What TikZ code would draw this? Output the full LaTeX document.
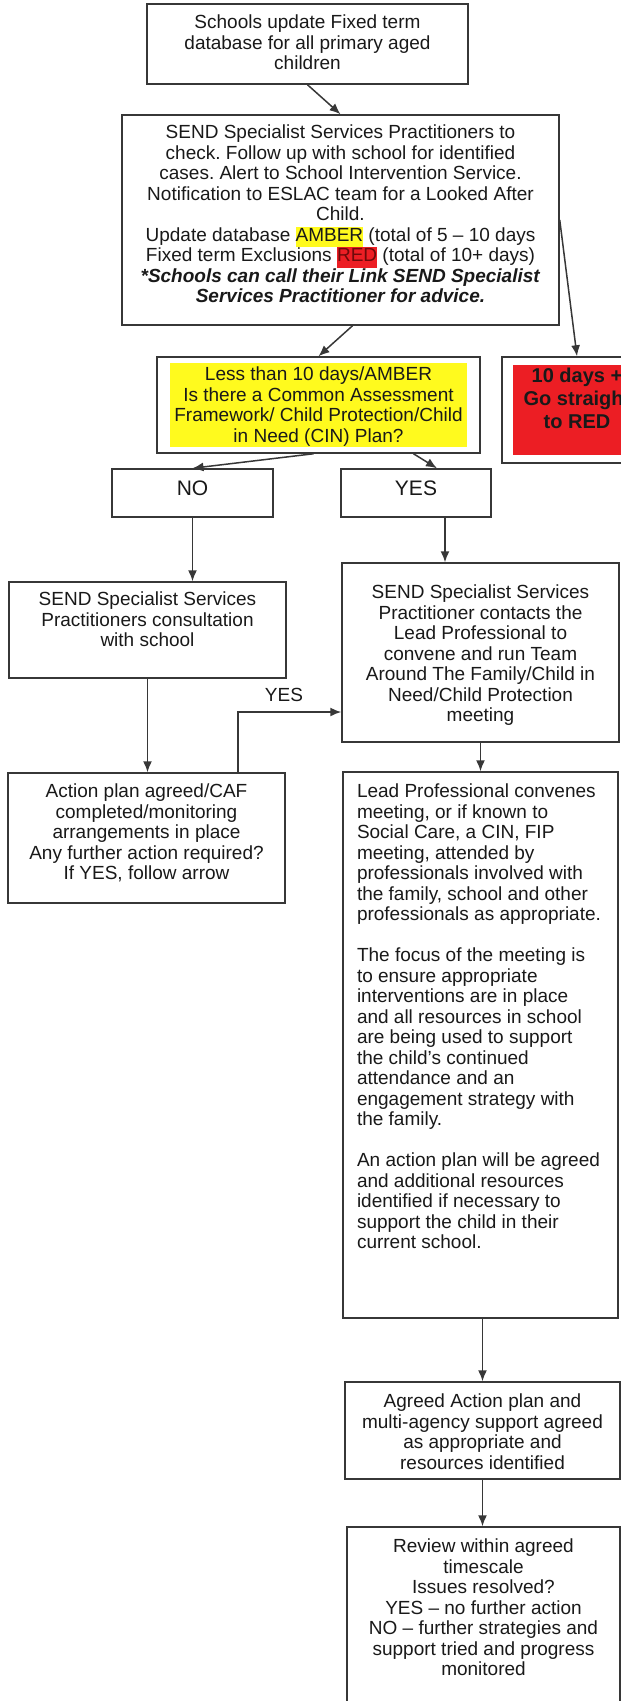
\documentclass[tikz,border=0pt]{standalone}
\usepackage{fontspec}
\setmainfont{Liberation Sans}
\usetikzlibrary{arrows.meta}
\definecolor{hlyellow}{RGB}{255,250,30}
\definecolor{hlred}{RGB}{236,30,36}
\definecolor{hlredtext}{RGB}{110,10,10}
\definecolor{edge}{RGB}{55,55,55}
\frenchspacing
\newcommand{\bodyfont}{\fontsize{19pt}{20.5pt}\selectfont}
\newcommand{\boxtext}[4]{\parbox[c][#2pt][t]{#1pt}{\centering\vspace*{#3pt}#4}}
\newcommand{\amber}[1]{{\fboxsep=0pt\colorbox{hlyellow}{\strut #1}}}
\newcommand{\redhl}[1]{{\fboxsep=0pt\colorbox{hlred}{\strut\textcolor{hlredtext}{#1}}}}
\begin{document}
\begin{tikzpicture}[x=1pt,y=1pt]
	\tikzstyle{box}=[draw=edge,line width=1.5pt,fill=white,inner sep=0pt,font=\bodyfont,text=black!90]
	\tikzstyle{lbl}=[inner sep=0pt,font=\bodyfont,text=black!90]
	\tikzstyle{arr}=[draw=edge,line width=1.5pt,-{Latex[length=11pt,width=9pt]}]
	\useasboundingbox (0,0) rectangle (621,-1701);
	\clip (0,0) rectangle (621,-1701);
	\draw (307.5,-44) node[box] (b1) {\boxtext{321}{80}{11}{Schools update Fixed term\\database for all primary aged\\children}};
	\draw (340.5,-220) node[box] (b2) {\boxtext{437}{210}{10}{SEND Specialist Services Practitioners to\\check. Follow up with school for identified\\cases. Alert to School Intervention Service.\\Notification to ESLAC team for a Looked After\\Child.\\Update database \amber{AMBER} (total of 5 – 10 days\\Fixed term Exclusions \redhl{RED} (total of 10+ days)\\\textbf{\textit{*Schools can call their Link SEND Specialist}}\\\textbf{\textit{Services Practitioner for advice.}}}};
	\draw (318.5,-405) node[box,inner xsep=13pt,inner ysep=6pt] (b3) {{\fboxsep=0pt\colorbox{hlyellow}{\boxtext{297}{84}{4}{Less than 10 days/AMBER\\Is there a Common Assessment\\Framework/ Child Protection/Child\\in Need (CIN) Plan?}}}};
	\draw (577,-410) node[box,inner xsep=11pt,inner ysep=8pt] (red) {{\fboxsep=0pt\colorbox{hlred}{\bfseries\fontsize{20pt}{23pt}\selectfont\boxtext{128}{90}{3}{10 days +\\Go straight\\to RED}}}};
	\draw (192.5,-493) node[box] (no) {{\fontsize{21pt}{24pt}\selectfont\boxtext{161}{48}{11.5}{NO}}};
	\draw (416,-493) node[box] (yes) {{\fontsize{21pt}{24pt}\selectfont\boxtext{150}{48}{11.5}{YES}}};
	\draw (147.5,-630) node[box] (lbox) {\boxtext{277}{96}{10}{SEND Specialist Services\\Practitioners consultation\\with school}};
	\draw (146.5,-838) node[box] (act) {\boxtext{277}{130}{11}{Action plan agreed/CAF\\completed/monitoring\\arrangements in place\\Any further action required?\\If YES, follow arrow}};
	\draw (480.5,-652.5) node[box] (rbox) {\boxtext{277}{179}{22}{SEND Specialist Services\\Practitioner contacts the\\Lead Professional to\\convene and run Team\\Around The Family/Child in\\Need/Child Protection\\meeting}};
	\draw (480.5,-1045) node[box] (b5) {\parbox[c][546pt][t]{275pt}{\raggedright\leftskip=14pt\vspace*{12pt}Lead Professional convenes\\meeting, or if known to\\Social Care, a CIN, FIP\\meeting, attended by\\professionals involved with\\the family, school and other\\professionals as appropriate.\\[20.5pt]The focus of the meeting is\\to ensure appropriate\\interventions are in place\\and all resources in school\\are being used to support\\the child’s continued\\attendance and an\\engagement strategy with\\the family.\\[20.5pt]An action plan will be agreed\\and additional resources\\identified if necessary to\\support the child in their\\current school.}};
	\draw (482.5,-1430.5) node[box] (b6) {\boxtext{275}{97}{12}{Agreed Action plan and\\multi-agency support agreed\\as appropriate and\\resources identified}};
	\draw (483.5,-1623.5) node[box] (b7) {\boxtext{273}{193}{12}{Review within agreed\\timescale\\Issues resolved?\\YES – no further action\\NO – further strategies and\\support tried and progress\\monitored}};
	\draw (284,-695) node[lbl] (yesnote) {YES};
	\coordinate (turn) at (238,-712);
	\draw [arr] (b1.south) -- (b2.north);
	\draw [arr] ([xshift=12pt]b2.south) -- (b3.north);
	\draw [arr] (b2.east) -- (red.north);
	\draw [arr] ([xshift=-5pt]b3.south) -- (no.north);
	\draw [arr] ([xshift=95pt]b3.south) -- ([xshift=21pt]yes.north);
	\draw [arr] (no.south) -- (no.south |- lbox.north);
	\draw [arr] ([xshift=29pt]yes.south) -- ([xshift=29pt]yes.south |- rbox.north);
	\draw [arr] (lbox.south) -- (lbox.south |- act.north);
	\draw [arr] (act.north -| turn) -- (turn) -- (turn -| rbox.west);
	\draw [arr] (rbox.south) -- (b5.north);
	\draw [arr] (b6.north |- b5.south) -- (b6.north);
	\draw [arr] (b6.south) -- (b6.south |- b7.north);
\end{tikzpicture}
\end{document}
